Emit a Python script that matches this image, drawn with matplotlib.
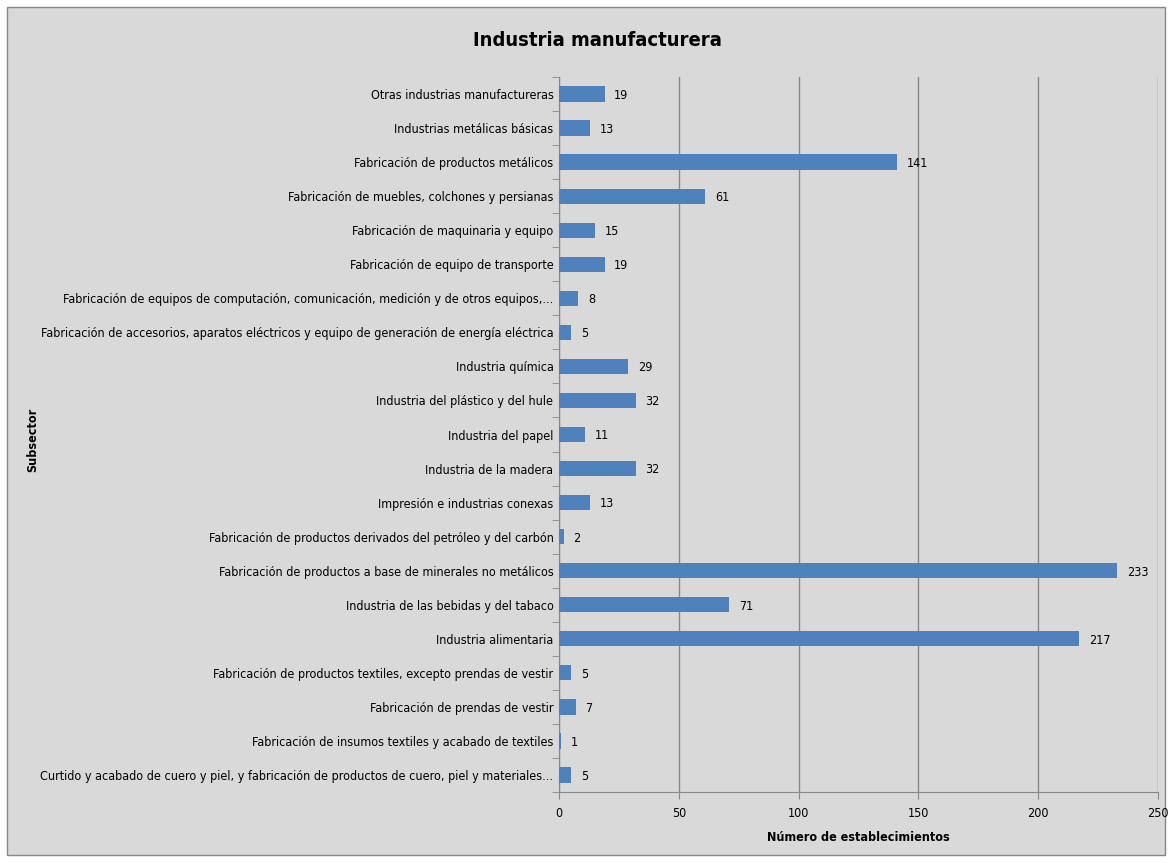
from matplotlib import pyplot as plt
from matplotlib.patches import Rectangle

# categories listed bottom to top, as they appear on the axis
subsectores = [
    "Curtido y acabado de cuero y piel, y fabricación de productos de cuero, piel y materiales...",
    "Fabricación de insumos textiles y acabado de textiles",
    "Fabricación de prendas de vestir",
    "Fabricación de productos textiles, excepto prendas de vestir",
    "Industria alimentaria",
    "Industria de las bebidas y del tabaco",
    "Fabricación de productos a base de minerales no metálicos",
    "Fabricación de productos derivados del petróleo y del carbón",
    "Impresión e industrias conexas",
    "Industria de la madera",
    "Industria del papel",
    "Industria del plástico y del hule",
    "Industria química",
    "Fabricación de accesorios, aparatos eléctricos y equipo de generación de energía eléctrica",
    "Fabricación de equipos de computación, comunicación, medición y de otros equipos,...",
    "Fabricación de equipo de transporte",
    "Fabricación de maquinaria y equipo",
    "Fabricación de muebles, colchones y persianas",
    "Fabricación de productos metálicos",
    "Industrias metálicas básicas",
    "Otras industrias manufactureras",
]
establecimientos = [5, 1, 7, 5, 217, 71, 233, 2, 13, 32, 11, 32, 29, 5, 8, 19, 15, 61, 141, 13, 19]
xticks = [0, 50, 100, 150, 200, 250]

plt.rcParams['font.family'] = ['DejaVu Sans']
plt.rcParams['font.stretch'] = 'condensed'

bg = '#d9d9d9'
fig = plt.figure(figsize=(11.74, 8.63), dpi=100, facecolor='white')
fig.patches.append(Rectangle((7 / 1174, 8 / 863), 1158 / 1174, 848 / 863,
                             transform=fig.transFigure, facecolor=bg,
                             edgecolor='#888888', linewidth=1, zorder=-10))

ax = fig.add_axes([559 / 1174, 1 - 792 / 863, (1158 - 559) / 1174, (792 - 77) / 863])
ax.set_facecolor(bg)

n = len(subsectores)
pos = list(range(n))
ax.barh(pos, establecimientos, height=0.45, color='#4f81bd', zorder=3)
for y, v in zip(pos, establecimientos):
    ax.annotate(str(v), (v, y), xytext=(7, -1), textcoords='offset points',
                va='center', ha='left', fontsize=9)

ax.set_xlim(0, 250)
ax.set_ylim(-0.5, n - 0.5)
ax.set_xticks(xticks)
ax.set_yticks(pos)
ax.set_yticklabels(subsectores, fontsize=9)
ax.set_yticks([p - 0.5 for p in pos] + [n - 0.5], minor=True)
ax.tick_params(axis='y', which='major', length=0, pad=4)
ax.tick_params(axis='y', which='minor', length=5, color='#888888')
ax.tick_params(axis='x', length=5, color='#888888', labelsize=9, pad=6)
ax.xaxis.grid(True, color='#888888', linewidth=1, zorder=0)
ax.set_axisbelow(True)

for s in ['top', 'right']:
    ax.spines[s].set_visible(False)
for s in ['left', 'bottom']:
    ax.spines[s].set_color('#888888')

ax.set_xlabel('Número de establecimientos', fontsize=9, fontweight='bold', labelpad=8)
fig.text(33 / 1174, 1 - 440 / 863, 'Subsector', rotation=90, fontsize=9,
         fontweight='bold', ha='center', va='center')
fig.text(597 / 1174, 1 - 40 / 863, 'Industria manufacturera', fontsize=14.5,
         fontweight='bold', ha='center', va='center')

fig.savefig('out.png', dpi=100, facecolor='white')
